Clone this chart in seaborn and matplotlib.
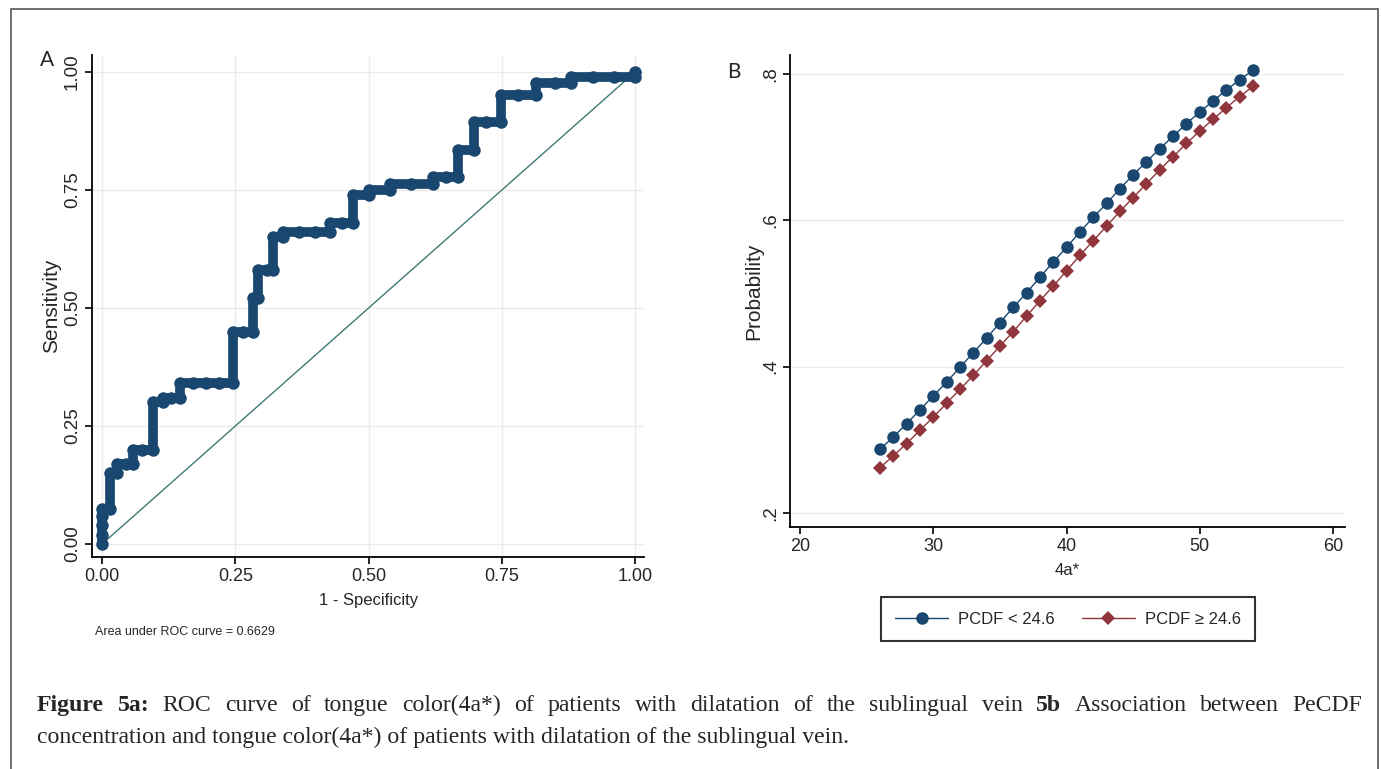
import numpy as np
import pandas as pd
import matplotlib
matplotlib.use("Agg")
import matplotlib.pyplot as plt
import seaborn as sns
from matplotlib.lines import Line2D

# --- panel A : ROC curve steps (1 - specificity, sensitivity)
fpr = [0.0, 0.0, 0.0, 0.0, 0.0, 0.015, 0.015, 0.028, 0.028, 0.045, 0.058, 0.058,
       0.075, 0.096, 0.096, 0.115, 0.115, 0.13, 0.146, 0.146, 0.17, 0.195, 0.22, 0.245,
       0.245, 0.265, 0.283, 0.283, 0.293, 0.293, 0.31, 0.32, 0.32, 0.34, 0.34, 0.37,
       0.40, 0.427, 0.427, 0.45, 0.47, 0.47, 0.50, 0.50, 0.54, 0.54, 0.58, 0.62, 0.62,
       0.645, 0.667, 0.667, 0.698, 0.698, 0.72, 0.749, 0.749, 0.78, 0.814, 0.814,
       0.85, 0.88, 0.88, 0.92, 0.96, 1.0, 1.0]
tpr = [0.0, 0.02, 0.04, 0.06, 0.075, 0.075, 0.15, 0.15, 0.17, 0.17, 0.17, 0.2,
       0.2, 0.2, 0.3, 0.3, 0.31, 0.31, 0.31, 0.34, 0.34, 0.34, 0.34, 0.34,
       0.45, 0.45, 0.45, 0.52, 0.52, 0.58, 0.58, 0.58, 0.65, 0.65, 0.66, 0.66,
       0.66, 0.66, 0.68, 0.68, 0.68, 0.74, 0.74, 0.75, 0.75, 0.763, 0.763, 0.763, 0.778,
       0.778, 0.778, 0.835, 0.835, 0.894, 0.894, 0.894, 0.951, 0.951, 0.951, 0.976,
       0.976, 0.976, 0.99, 0.99, 0.99, 0.99, 1.0]
auc_label = "Area under ROC curve = 0.6629"

# --- panel B : predicted probability by 4a*
a_star = [26, 27, 28, 29, 30, 31, 32, 33, 34, 35, 36, 37, 38, 39, 40,
          41, 42, 43, 44, 45, 46, 47, 48, 49, 50, 51, 52, 53, 54]
prob_low = [0.287, 0.304, 0.322, 0.341, 0.360, 0.379, 0.399, 0.419, 0.439, 0.460,
            0.481, 0.501, 0.522, 0.543, 0.563, 0.584, 0.604, 0.623, 0.643, 0.662,
            0.680, 0.698, 0.715, 0.732, 0.748, 0.763, 0.778, 0.792, 0.805]
prob_high = [0.262, 0.278, 0.295, 0.313, 0.331, 0.350, 0.369, 0.388, 0.408, 0.428,
             0.448, 0.469, 0.490, 0.510, 0.531, 0.552, 0.572, 0.592, 0.612, 0.631,
             0.650, 0.669, 0.687, 0.705, 0.722, 0.738, 0.754, 0.769, 0.783]
groups = ["PCDF < 24.6", "PCDF \u2265 24.6"]

navy = "#1a476f"
maroon = "#90353b"
grid_c = "#ebebeb"

sns.set_theme(style="ticks")
sans = ["Liberation Sans", "DejaVu Sans"]
plt.rcParams["font.family"] = sans

fig = plt.figure(figsize=(13.81, 7.69), dpi=100)
axA = fig.add_axes([0.0666, 0.2757, 0.400, 0.653])
axB = fig.add_axes([0.572, 0.3147, 0.402, 0.614])

# ---------------- panel A
roc = pd.DataFrame({"fpr": fpr, "tpr": tpr})
axA.plot([0, 1], [0, 1], color="#3f7a73", lw=1, zorder=2)
sns.lineplot(data=roc, x="fpr", y="tpr", sort=False, estimator=None, color=navy,
             lw=7, marker="o", markersize=9, markeredgewidth=0, ax=axA, zorder=3)
axA.set_xlim(-0.019, 1.017)
axA.set_ylim(-0.0275, 1.036)
ticksA = [0, 0.25, 0.5, 0.75, 1.0]
axA.set_xticks(ticksA)
axA.set_xticklabels(["0.00", "0.25", "0.50", "0.75", "1.00"], fontsize=13)
axA.set_yticks(ticksA)
axA.set_yticklabels(["0.00", "0.25", "0.50", "0.75", "1.00"], fontsize=13.5,
                    rotation=90, va="center")
axA.grid(True, color=grid_c, lw=1)
axA.set_xlabel("1 - Specificity", fontsize=12, labelpad=6)
axA.set_ylabel("Sensitivity", fontsize=15, labelpad=2)

# ---------------- panel B
dfb = pd.DataFrame({"a": a_star + a_star,
                    "p": prob_low + prob_high,
                    "g": [groups[0]] * len(a_star) + [groups[1]] * len(a_star)})
sns.lineplot(data=dfb, x="a", y="p", hue="g", style="g", markers=["o", "D"],
             dashes=False, palette=[navy, maroon], lw=1, ax=axB, legend=False)
for ln, ms in zip(axB.lines, (9, 7.5)):
    ln.set_markersize(ms)
    ln.set_markeredgewidth(0)
axB.set_xlim(19.25, 60.9)
axB.set_ylim(0.181, 0.826)
axB.set_xticks([20, 30, 40, 50, 60])
axB.set_xticklabels(["20", "30", "40", "50", "60"], fontsize=13)
axB.set_yticks([0.2, 0.4, 0.6, 0.8])
axB.set_yticklabels([".2", ".4", ".6", ".8"], fontsize=13.5, rotation=90, va="center")
axB.yaxis.grid(True, color=grid_c, lw=1)
axB.set_xlabel("4a*", fontsize=12, labelpad=6)
axB.set_ylabel("Probability", fontsize=15, labelpad=-1)

for ax in (axA, axB):
    sns.despine(ax=ax)
    for s in ("left", "bottom"):
        ax.spines[s].set_color("black")
        ax.spines[s].set_linewidth(1.3)
    ax.tick_params(direction="out", length=5, width=1.2, color="black", pad=3)

handles = [Line2D([], [], color=navy, lw=1, marker="o", markersize=9, markeredgewidth=0),
           Line2D([], [], color=maroon, lw=1, marker="D", markersize=7.5, markeredgewidth=0)]
leg = fig.legend(handles, groups, loc="center", bbox_to_anchor=(0.7733, 0.195), ncol=2,
                 frameon=True, fancybox=False, edgecolor="black", fontsize=12,
                 handlelength=3.2, handletextpad=0.6, columnspacing=1.6, borderpad=0.85)
leg.get_frame().set_linewidth(1.5)

# panel letters and AUC note
fig.text(40 / 1381, 1 - 60 / 769, "A", fontsize=15, family=["Lato", "DejaVu Sans"], va="center")
fig.text(727 / 1381, 1 - 72 / 769, "B", fontsize=15, family=["Lato", "DejaVu Sans"], va="center")
fig.text(95 / 1381, 1 - 632 / 769, auc_label, fontsize=9, va="center")

# caption: first line justified to the right margin, bold parts kept
serif = ["Liberation Serif", "DejaVu Serif"]
cap_size = 17.1
renderer = fig.canvas.get_renderer()

def word_width(word, bold):
    t = fig.text(0, 0, word, fontsize=cap_size, family=serif,
                 fontweight="bold" if bold else "normal")
    w = t.get_window_extent(renderer=renderer).width
    t.remove()
    return w

line1 = [("Figure", True), ("5a:", True)] + \
        [(w, False) for w in "ROC curve of tongue color(4a*) of patients with dilatation of the sublingual vein".split()] + \
        [("5b", True)] + \
        [(w, False) for w in "Association between PeCDF".split()]
x0, x1 = 37.0, 1362.0
widths = [word_width(w, b) for w, b in line1]
gap = (x1 - x0 - sum(widths)) / (len(line1) - 1)
x = x0
for (w, b), wd in zip(line1, widths):
    fig.text(x / 1381, 1 - 711 / 769, w, fontsize=cap_size, family=serif,
             fontweight="bold" if b else "normal", va="baseline")
    x += wd + gap

fig.text(37 / 1381, 1 - 743 / 769,
         "concentration and tongue color(4a*) of patients with dilatation of the sublingual vein.",
         fontsize=cap_size, family=serif, va="baseline")

# outer frame
fig.add_artist(plt.Rectangle((11 / 1381, -0.05), (1378 - 11) / 1381, 1.05 - 9 / 769,
                             transform=fig.transFigure, fill=False, edgecolor="#555555", lw=1.2))

fig.savefig("out.png", dpi=100)
